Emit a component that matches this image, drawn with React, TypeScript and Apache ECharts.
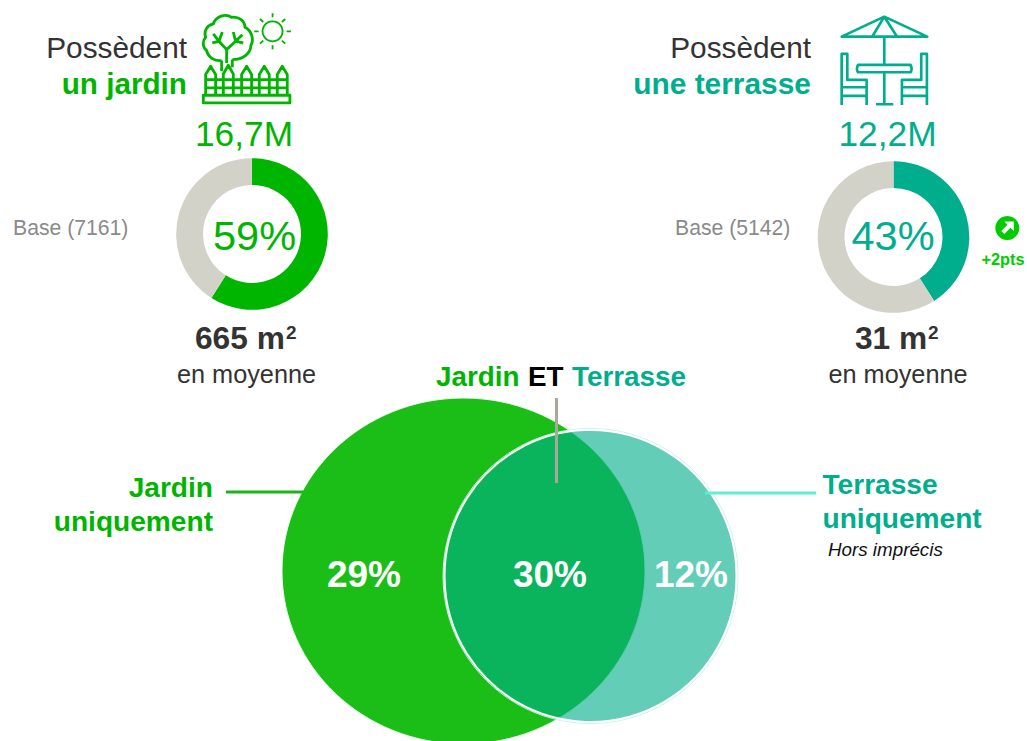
import React, { useEffect, useRef } from "react";
import * as echarts from "echarts";

const GARDEN = "#00B500";
const TERRACE = "#00AE8E";
const REST = "#D2D2C8";
const DARK = "#333333";
const FONT = '"Liberation Sans", Arial, sans-serif';

const gardenShare = [59, 41];
const terraceShare = [41, 59];
const gardenLabels = ["Possèdent", "un jardin", "16,7M", "59%", "Base (7161)", "665 m", "en moyenne"];
const terraceLabels = ["Possèdent", "une terrasse", "12,2M", "43%", "Base (5142)", "31 m", "en moyenne"];
const vennLabels = ["29%", "30%", "12%"];

const TREE =
  "M80 158C60 160 40 150 35 128C22 118 22 98 32 88C26 70 35 52 55 48C62 25 92 15 110 28C130 25 150 38 150 58C170 68 178 95 168 112C168 135 145 155 112 155" +
  "M80 158L80 190M112 155L112 178M95 165L95 125L72 100L55 78M72 100L82 72M72 100L52 105M95 125L122 100L115 72M122 100L142 80M122 100L145 105" +
  "M32 262L32 200L47 175L62 200L62 262M85 262L85 198L100 172L115 198L115 262M140 262L140 200L155 175L170 200L170 262M193 262L193 200L208 175L223 200L223 262M247 262L247 200L262 175L277 200L277 262" +
  "M32 215L277 215M32 240L277 240M25 262L285 262L285 285L25 285Z";
const SUN =
  "M233 40A30 30 0 1 1 232.9 40ZM233 16L233 28M233 112L233 124M178 70L191 70M275 70L288 70M195 33L205 42M271 33L261 42M195 107L205 98M271 107L261 98";
const PATIO =
  "M163 20L292 80L35 80ZM163 20L128 78M163 20L200 78M163 80L163 165M163 187L163 283M138 283L190 283" +
  "M84 165L242 165Q248 176 242 187L84 187Q78 176 84 165Z" +
  "M35 285L35 132L52 132L52 210L110 210L110 285M35 232L110 232M35 258L110 258" +
  "M291 285L291 132L274 132L274 210L216 210L216 285M291 232L216 232M291 258L216 258";
const ARROW = "M6.5 -6.5L6.5 3L3.2 -0.2L-3 6L-6 3L0.2 -3.2L-3 -6.5Z";

echarts.graphic.registerShape("tree", echarts.graphic.extendPath(TREE, {}));
echarts.graphic.registerShape("sun", echarts.graphic.extendPath(SUN, {}));
echarts.graphic.registerShape("patio", echarts.graphic.extendPath(PATIO, {}));
echarts.graphic.registerShape("upArrow", echarts.graphic.extendPath(ARROW, {}));

const txt = (
  text: string,
  x: number,
  y: number,
  fontSize: number,
  fill: string,
  align = "left",
  extra: Record<string, unknown> = {},
) => ({
  type: "text",
  x,
  y,
  z: 20,
  style: { text, fontSize, fill, align, verticalAlign: "middle", fontFamily: FONT, ...extra },
});

const donut = (values: number[], color: string, cx: number, cy: number) => ({
  type: "pie",
  center: [cx, cy],
  radius: [49, 75.8],
  startAngle: 90,
  clockwise: true,
  silent: true,
  label: { show: false },
  labelLine: { show: false },
  itemStyle: { borderWidth: 0 },
  data: [
    { value: values[0], itemStyle: { color } },
    { value: values[1], itemStyle: { color: REST } },
  ],
});

export default function App() {
  const ref = useRef<HTMLDivElement>(null);
  useEffect(() => {
    const chart = echarts.init(ref.current!, null, { renderer: "svg" });
    const bold = { fontWeight: "bold" };
    chart.setOption({
      animation: false,
      backgroundColor: "#ffffff",
      series: [donut(gardenShare, GARDEN, 252, 234), donut(terraceShare, TERRACE, 893.5, 237)],
      graphic: [
        // Venn
        { type: "ellipse", z: 1, shape: { cx: 463.5, cy: 571, rx: 181.5, ry: 173 }, style: { fill: "#1BBE17", stroke: "#E6F7E6", lineWidth: 1 } },
        { type: "circle", z: 2, shape: { cx: 590.5, cy: 576, r: 147.5 }, style: { fill: "none", stroke: "#C8F2EA", lineWidth: 1 } },
        { type: "circle", z: 3, shape: { cx: 590.5, cy: 576, r: 146 }, style: { fill: "rgba(0,173,139,0.61)", stroke: "#ffffff", lineWidth: 2 } },
        // Connectors
        { type: "line", z: 5, shape: { x1: 226, y1: 492, x2: 303, y2: 492 }, style: { stroke: "#1BB51B", lineWidth: 3 } },
        { type: "line", z: 5, shape: { x1: 705, y1: 493, x2: 816, y2: 493 }, style: { stroke: "#5EF0D0", lineWidth: 3 } },
        { type: "line", z: 5, shape: { x1: 556.5, y1: 398, x2: 556.5, y2: 483 }, style: { stroke: "#A8A89C", lineWidth: 3 } },
        // Icons
        { type: "tree", x: 195, y: 8, scaleX: 1 / 3, scaleY: 1 / 3, z: 6, style: { fill: "none", stroke: GARDEN, lineWidth: 8.5, lineJoin: "round" } },
        { type: "sun", x: 195, y: 8, scaleX: 1 / 3, scaleY: 1 / 3, z: 6, style: { fill: "none", stroke: GARDEN, lineWidth: 5.5 } },
        { type: "patio", x: 830, y: 10, scaleX: 1 / 3, scaleY: 1 / 3, z: 6, style: { fill: "none", stroke: TERRACE, lineWidth: 8, lineJoin: "round" } },
        // Trend badge
        { type: "circle", z: 6, shape: { cx: 1007.3, cy: 228, r: 12 }, style: { fill: "#00CC00" } },
        { type: "upArrow", x: 1007.3, y: 228, z: 7, style: { fill: "#ffffff" } },
        txt("+2pts", 1003, 259, 16.3, "#00CC00", "center", bold),
        // Left block
        txt(gardenLabels[0], 187, 47, 29.8, DARK, "right"),
        txt(gardenLabels[1], 187, 83, 29.7, GARDEN, "right", bold),
        txt(gardenLabels[2], 244, 133, 35.3, GARDEN, "center"),
        txt(gardenLabels[3], 254.5, 235, 41.5, GARDEN, "center"),
        txt(gardenLabels[4], 13, 227, 21.2, "#8A8A8A"),
        txt(gardenLabels[5], 195, 338, 31.7, DARK, "left", bold),
        txt("2", 286, 332, 19, DARK, "left", bold),
        txt(gardenLabels[6], 246.5, 374, 25.3, DARK, "center"),
        // Right block
        txt(terraceLabels[0], 811, 47, 29.8, DARK, "right"),
        txt(terraceLabels[1], 811, 83, 29.9, TERRACE, "right", bold),
        txt(terraceLabels[2], 887.5, 133, 35.3, TERRACE, "center"),
        txt(terraceLabels[3], 893, 235, 41.5, TERRACE, "center"),
        txt(terraceLabels[4], 675, 227, 21.2, "#8A8A8A"),
        txt(terraceLabels[5], 855, 338, 31.7, DARK, "left", bold),
        txt("2", 928, 332, 19, DARK, "left", bold),
        txt(terraceLabels[6], 898, 374, 25.3, DARK, "center"),
        // Venn titles
        txt("Jardin", 436, 376, 27.8, GARDEN, "left", bold),
        txt("ET", 528, 376, 27.8, "#000000", "left", bold),
        txt("Terrasse", 572, 376, 27.8, TERRACE, "left", bold),
        txt("Jardin", 213, 487, 28.1, GARDEN, "right", bold),
        txt("uniquement", 213, 521, 28.1, GARDEN, "right", bold),
        txt("Terrasse", 822.5, 484, 28.1, TERRACE, "left", bold),
        txt("uniquement", 822.5, 518, 28.1, TERRACE, "left", bold),
        txt("Hors imprécis", 828, 549, 18.8, "#111111", "left", { fontStyle: "italic" }),
        txt(vennLabels[0], 364, 574, 37, "#ffffff", "center", bold),
        txt(vennLabels[1], 550, 574, 37, "#ffffff", "center", bold),
        txt(vennLabels[2], 691, 574, 37, "#ffffff", "center", bold),
      ],
    });
    return () => chart.dispose();
  }, []);
  return (
    <div
      ref={ref}
      style={{ position: "fixed", left: 0, top: 0, width: 1027, height: 741, background: "#fff" }}
    />
  );
}
